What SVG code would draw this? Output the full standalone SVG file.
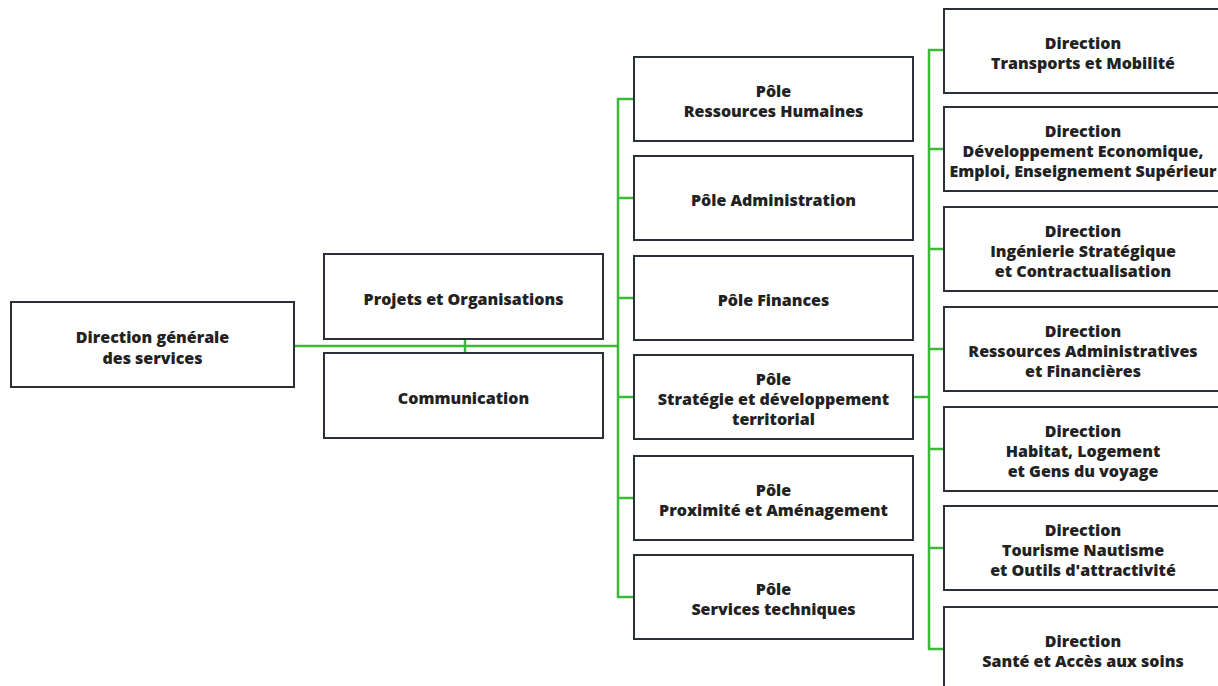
<svg xmlns="http://www.w3.org/2000/svg" width="1218" height="686" viewBox="0 0 1218 686">
<style>
.box{fill:#fff;stroke:#2a2f3a;stroke-width:2}
.t{font-family:"Open Sans","Liberation Sans",sans-serif;font-weight:800;font-size:16px;fill:#222;text-anchor:middle}
.c{stroke:#3cb93a;stroke-width:2.5;fill:none}
</style>
<rect width="1218" height="686" fill="#fff"/>
<g id="connectors">
<line class="c" x1="294" y1="346" x2="618" y2="346"/>
<line class="c" x1="465" y1="339" x2="465" y2="353"/>
<line class="c" x1="618" y1="98" x2="618" y2="598"/>
<line class="c" x1="617" y1="99" x2="634" y2="99"/>
<line class="c" x1="618" y1="198" x2="634" y2="198"/>
<line class="c" x1="618" y1="298" x2="634" y2="298"/>
<line class="c" x1="618" y1="397" x2="634" y2="397"/>
<line class="c" x1="618" y1="498" x2="634" y2="498"/>
<line class="c" x1="617" y1="597" x2="634" y2="597"/>
<line class="c" x1="913" y1="397" x2="929" y2="397"/>
<line class="c" x1="929" y1="49" x2="929" y2="650"/>
<line class="c" x1="928" y1="50" x2="944" y2="50"/>
<line class="c" x1="929" y1="149" x2="944" y2="149"/>
<line class="c" x1="929" y1="249" x2="944" y2="249"/>
<line class="c" x1="929" y1="349" x2="944" y2="349"/>
<line class="c" x1="929" y1="449" x2="944" y2="449"/>
<line class="c" x1="929" y1="548" x2="944" y2="548"/>
<line class="c" x1="928" y1="649" x2="944" y2="649"/>
</g>
<g id="dg"><rect class="box" x="11" y="302" width="283" height="85"/><text class="t" x="152.5" y="343">Direction générale</text><text class="t" x="152.5" y="364">des services</text></g>
<g id="projets"><rect class="box" x="324" y="254" width="279" height="85"/><text class="t" x="463.5" y="305">Projets et Organisations</text></g>
<g id="communication"><rect class="box" x="324" y="353" width="279" height="85"/><text class="t" x="463.5" y="404">Communication</text></g>
<g id="pole-rh"><rect class="box" x="634" y="57" width="279" height="84"/><text class="t" x="773.5" y="97">Pôle</text><text class="t" x="773.5" y="117">Ressources Humaines</text></g>
<g id="pole-admin"><rect class="box" x="634" y="156" width="279" height="84"/><text class="t" x="773.5" y="206">Pôle Administration</text></g>
<g id="pole-finances"><rect class="box" x="634" y="256" width="279" height="84"/><text class="t" x="773.5" y="306">Pôle Finances</text></g>
<g id="pole-strategie"><rect class="box" x="634" y="355" width="279" height="84"/><text class="t" x="773.5" y="385">Pôle</text><text class="t" x="773.5" y="405">Stratégie et développement</text><text class="t" x="773.5" y="425">territorial</text></g>
<g id="pole-proximite"><rect class="box" x="634" y="456" width="279" height="84"/><text class="t" x="773.5" y="496">Pôle</text><text class="t" x="773.5" y="516">Proximité et Aménagement</text></g>
<g id="pole-services"><rect class="box" x="634" y="555" width="279" height="84"/><text class="t" x="773.5" y="595">Pôle</text><text class="t" x="773.5" y="615">Services techniques</text></g>
<g id="dir-transports"><rect class="box" x="944" y="9" width="279" height="84"/><text class="t" x="1083" y="49">Direction</text><text class="t" x="1083" y="69">Transports et Mobilité</text></g>
<g id="dir-dev"><rect class="box" x="944" y="107" width="279" height="84"/><text class="t" x="1083" y="137">Direction</text><text class="t" x="1083" y="157">Développement Economique,</text><text class="t" x="1083" y="177">Emploi, Enseignement Supérieur</text></g>
<g id="dir-ingenierie"><rect class="box" x="944" y="207" width="279" height="84"/><text class="t" x="1083" y="237">Direction</text><text class="t" x="1083" y="257">Ingénierie Stratégique</text><text class="t" x="1083" y="277">et Contractualisation</text></g>
<g id="dir-ressources"><rect class="box" x="944" y="307" width="279" height="84"/><text class="t" x="1083" y="337">Direction</text><text class="t" x="1083" y="357">Ressources Administratives</text><text class="t" x="1083" y="377">et Financières</text></g>
<g id="dir-habitat"><rect class="box" x="944" y="407" width="279" height="84"/><text class="t" x="1083" y="437">Direction</text><text class="t" x="1083" y="457">Habitat, Logement</text><text class="t" x="1083" y="477">et Gens du voyage</text></g>
<g id="dir-tourisme"><rect class="box" x="944" y="506" width="279" height="84"/><text class="t" x="1083" y="536">Direction</text><text class="t" x="1083" y="556">Tourisme Nautisme</text><text class="t" x="1083" y="576">et Outils d'attractivité</text></g>
<g id="dir-sante"><rect class="box" x="944" y="607" width="279" height="84"/><text class="t" x="1083" y="647">Direction</text><text class="t" x="1083" y="667">Santé et Accès aux soins</text></g>
</svg>
